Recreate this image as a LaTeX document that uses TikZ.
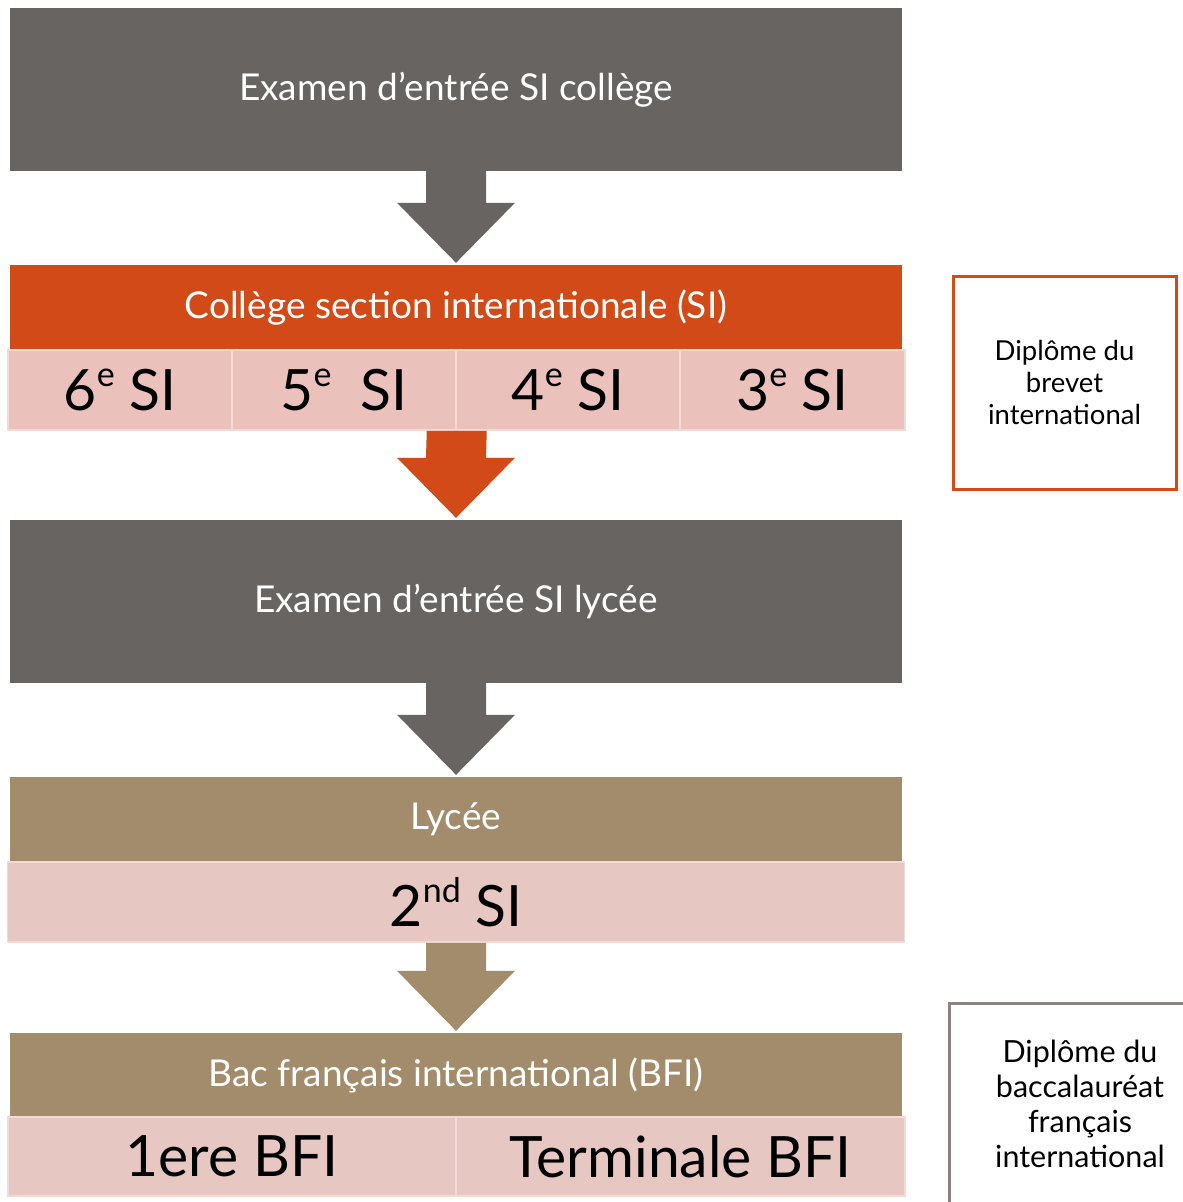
\documentclass[tikz,border=0pt]{standalone}
\usepackage{fontspec}
\setmainfont{Lato}
\usetikzlibrary{calc}
\usepackage{xcolor}
\definecolor{darkgrey}{HTML}{676462}
\definecolor{rust}{HTML}{D14A18}
\definecolor{tan}{HTML}{A38C6B}
\definecolor{rosa}{HTML}{EBC1BB}
\definecolor{rosb}{HTML}{E6C7C2}
\definecolor{rosline}{HTML}{F3DAD6}
\definecolor{taupe}{HTML}{8C8282}

% block arrow from the bottom of one node to the top of the next
\newcommand{\blockarrow}[3]{%
  \fill[#1] ($(#2)+(-30,0)$) -- ($(#2)+(30,0)$) -- ($(#3)+(30,-62)$)
    -- ($(#3)+(59,-62)$) -- ($(#3)+(0,-2)$) -- ($(#3)+(-59,-62)$)
    -- ($(#3)+(-30,-62)$) -- cycle;}
% raised class suffix
\newcommand{\classup}[1]{\raisebox{0.42em}{\fontsize{34}{34}\selectfont #1}}

\begin{document}
\begin{tikzpicture}[x=1pt, y=-1pt]
			\tikzstyle{band}=[
			rectangle,
			inner sep=0pt,
			text=white,
			minimum width=892,
			font=\fontsize{37}{40}\selectfont]
			\tikzstyle{cell}=[
			rectangle,
			draw=rosline,
			line width=1.5pt,
			inner sep=0pt,
			minimum height=80,
			font=\fontsize{57}{60}\selectfont]
			\tikzstyle{diploma}=[
			rectangle,
			line width=3pt,
			align=center,
			inner sep=0pt]
			%
			\path[use as bounding box, clip] (0,0) rectangle (1183,1202);
			\fill[white] (0,0) rectangle (1183,1202);
			%
			\node[band, fill=darkgrey, minimum height=163] (exam1) at (456,89.5) {Examen d’entrée SI collège};
			\node[band, fill=rust, minimum height=85, below of=exam1, node distance=218] (college) {Collège section internationale (SI)};
			\node[cell, fill=rosa, minimum width=224] (six) at (120,390) {6\classup{e} SI};
			\node[cell, fill=rosa, minimum width=224, right of=six, node distance=224] (five) {5\classup{e}\ \ SI};
			\node[cell, fill=rosa, minimum width=224, right of=five, node distance=224] (four) {4\classup{e} SI};
			\node[cell, fill=rosa, minimum width=225, right of=four, node distance=224.5] (three) {3\classup{e} SI};
			\node[band, fill=darkgrey, minimum height=163] (exam2) at (456,601.5) {Examen d’entrée SI lycée};
			\node[band, fill=tan, minimum height=85, below of=exam2, node distance=218] (lycee) {Lycée};
			\node[cell, fill=rosb, minimum width=897, below of=lycee, node distance=82.5] (second) {2\classup{nd} SI};
			\node[band, fill=tan, minimum height=84] (bac) at (456,1075) {Bac français international (BFI)};
			\node[cell, fill=rosb, minimum width=448, minimum height=79] (premiere) at (232,1156.5) {1ere BFI};
			\node[cell, fill=rosb, minimum width=449, minimum height=79, right of=premiere, node distance=448.5] (terminale) {Terminale BFI};
			%
			\node[diploma, draw=rust, minimum width=223, minimum height=213, font=\fontsize{27.5}{32}\selectfont] (brevet) at (1064.5,382.5) {Diplôme du\\brevet\\international};
			\node[diploma, draw=taupe, minimum width=262, minimum height=202, font=\fontsize{30.5}{35}\selectfont] (bfi) at (1080,1104) {Diplôme du\\baccalauréat\\français\\international};
			%
			\blockarrow{darkgrey}{exam1.south}{college.north}
			\blockarrow{rust}{five.south east}{exam2.north}
			\blockarrow{darkgrey}{exam2.south}{lycee.north}
			\blockarrow{tan}{second.south}{bac.north}
		\end{tikzpicture}
\end{document}
